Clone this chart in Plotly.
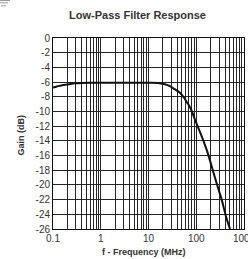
import plotly.graph_objects as go

freq_mhz = [0.1, 0.12, 0.14, 0.18, 0.23, 0.3, 0.4, 0.6, 1, 2, 5, 10, 17, 22, 28, 35, 46, 55, 63, 72, 80, 94, 120, 165, 211, 268, 341, 420, 509]
gain_db = [-6.75, -6.6, -6.5, -6.35, -6.25, -6.17, -6.12, -6.1, -6.1, -6.1, -6.1, -6.1, -6.15, -6.3, -6.55, -6.95, -7.5, -8.1, -8.7, -9.3, -9.9, -11.1, -12.8, -15.2, -17.5, -19.8, -22.0, -24.3, -26.0]

x_tickvals = [0.1, 1, 10, 100, 1000]
x_ticktext = ["0.1", "1", "10", "100", "1000"]
y_tickvals = list(range(0, -27, -2))
y_ticktext = [str(v) for v in y_tickvals]

minor_vals = [m * d for d in [0.1, 1, 10, 100] for m in range(2, 10)]

FONT = "Liberation Sans, Arial, sans-serif"
GRID = "#262626"
TXT = "#333333"

W, H = 248, 259
L, R, T, B = 53, 4, 38, 30
PW, PH = W - L - R, H - T - B

fig = go.Figure()
fig.add_trace(go.Scatter(x=freq_mhz, y=gain_db, mode="lines",
                         line=dict(color="#111111", width=2, shape="spline"),
                         showlegend=False, hoverinfo="skip", cliponaxis=True))

fig.update_layout(
    width=W, height=H,
    margin=dict(l=L, r=R, t=T, b=B, autoexpand=False),
    paper_bgcolor="white", plot_bgcolor="white",
    title=dict(text="<b>Low-Pass Filter Response</b>", x=137.5 / W, xanchor="center",
               y=1 - 15 / H, yanchor="middle",
               font=dict(family=FONT, size=11, color=TXT)),
    font=dict(family=FONT, size=10, color=TXT),
)
fig.update_xaxes(
    type="log", range=[-1, 3], automargin=False,
    tickvals=x_tickvals, ticktext=x_ticktext, ticklabeloverflow="allow",
    showgrid=True, gridcolor=GRID, gridwidth=1,
    minor=dict(tickvals=minor_vals, showgrid=True, gridcolor=GRID, gridwidth=1, ticks=""),
    showline=True, linecolor="#111111", linewidth=1, mirror=True,
    ticks="", ticklen=0,
    tickfont=dict(family=FONT, size=10, color=TXT),
    zeroline=False,
)
fig.update_yaxes(
    range=[-26, 0], automargin=False,
    tickvals=y_tickvals, ticktext=y_ticktext,
    showgrid=True, gridcolor=GRID, gridwidth=1,
    showline=True, linecolor="#111111", linewidth=1, mirror=True,
    ticks="", ticklen=0,
    tickfont=dict(family=FONT, size=10, color=TXT),
    zeroline=False,
)

# axis titles as annotations placed in pixel-derived paper coordinates
fig.add_annotation(text="<b>f - Frequency (MHz)</b>", xref="paper", yref="paper",
                   x=(143.5 - L) / PW, y=-(252 - (T + PH)) / PH,
                   xanchor="center", yanchor="middle", showarrow=False,
                   font=dict(family=FONT, size=9, color=TXT))
fig.add_annotation(text="<b>Gain (dB)</b>", xref="paper", yref="paper",
                   x=(20.5 - L) / PW, y=(T + PH - 135) / PH, textangle=-90,
                   xanchor="center", yanchor="middle", showarrow=False,
                   font=dict(family=FONT, size=9, color=TXT))

# small menu glyph in the top-left corner
for x0, x1, yy in [(0, 10, 0.5), (0, 8, 2.8), (1, 6, 5.8)]:
    fig.add_shape(type="line", xref="paper", yref="paper",
                  x0=(x0 - L) / PW, x1=(x1 - L) / PW,
                  y0=(T + PH - yy) / PH, y1=(T + PH - yy) / PH,
                  line=dict(color="#999999", width=1))

fig.write_html("out.html", config={"displayModeBar": False},
               post_script="document.body.style.margin='0';document.body.style.overflow='hidden';")
